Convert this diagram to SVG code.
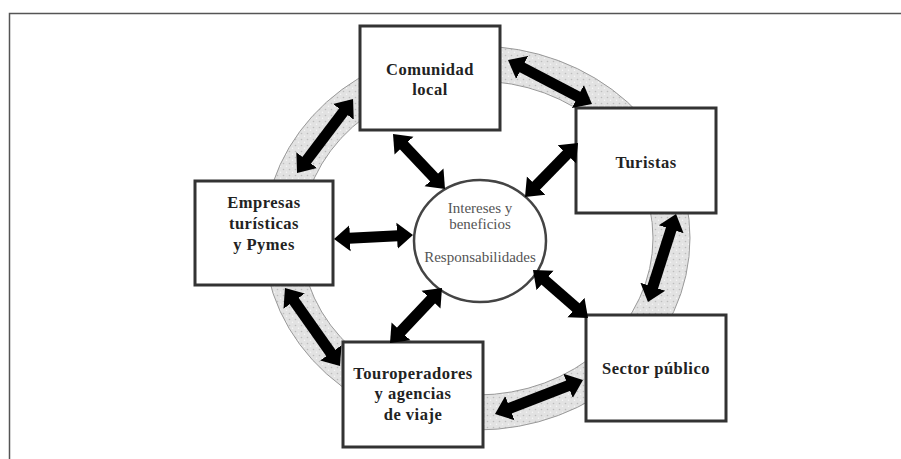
<svg xmlns="http://www.w3.org/2000/svg" width="901" height="459" viewBox="0 0 901 459">
<style>
.box{fill:#fff;stroke:#333;stroke-width:3}
.lbl{font-family:"Liberation Serif","Times New Roman",serif;font-weight:bold;font-size:16.5px;letter-spacing:0.5px;fill:#222;text-anchor:middle}
.ctr{font-family:"Liberation Serif","Times New Roman",serif;font-size:15px;fill:#555;text-anchor:middle}
.arr{stroke:#000;stroke-width:11;fill:none;marker-start:url(#ah);marker-end:url(#ah)}
.frame{stroke:#555;stroke-width:1.5;fill:none}
</style>
<defs>
<marker id="ah" markerUnits="userSpaceOnUse" viewBox="0 -14 17 28" refX="1" refY="0" markerWidth="17" markerHeight="28" orient="auto-start-reverse">
<path d="M0,-13 L16,0 L0,13 z" fill="#000"/>
</marker>
<pattern id="dots" width="6" height="6" patternUnits="userSpaceOnUse">
<rect width="6" height="6" fill="#e2e2e2"/>
<circle cx="1.5" cy="1.5" r="0.8" fill="#bdbdbd"/>
<circle cx="4.5" cy="4.2" r="0.8" fill="#f7f7f7"/>
</pattern>
</defs>
<rect width="901" height="459" fill="#fff"/>
<path class="frame" d="M9.5,459 V13.5 H901"/>
<g id="ring">
<path d="M264,238 a213,192 0 1,0 426,0 a213,192 0 1,0 -426,0 Z M301,238 a176,157 0 1,1 352,0 a176,157 0 1,1 -352,0 Z" fill="url(#dots)" fill-rule="evenodd" stroke="#999" stroke-width="1"/>
</g>
<g id="center">
<ellipse cx="480" cy="241" rx="66" ry="61" fill="#fff" stroke="#444" stroke-width="2.5"/>
<text class="ctr" x="480" y="213">Intereses y</text>
<text class="ctr" x="480" y="229">beneficios</text>
<text class="ctr" x="480" y="262">Responsabilidades</text>
</g>
<g id="comunidad">
<rect class="box" x="360" y="26" width="140" height="104"/>
<text class="lbl" x="430" y="75">Comunidad</text>
<text class="lbl" x="430" y="95">local</text>
</g>
<g id="turistas">
<rect class="box" x="576" y="108" width="140" height="105"/>
<text class="lbl" x="646" y="168">Turistas</text>
</g>
<g id="sector">
<rect class="box" x="586" y="315" width="140" height="106"/>
<text class="lbl" x="656" y="374">Sector público</text>
</g>
<g id="touroperadores">
<rect class="box" x="343" y="342" width="140" height="105"/>
<text class="lbl" x="413" y="379">Touroperadores</text>
<text class="lbl" x="413" y="399">y agencias</text>
<text class="lbl" x="413" y="420">de viaje</text>
</g>
<g id="empresas">
<rect class="box" x="195" y="181" width="138" height="104"/>
<text class="lbl" x="264" y="208">Empresas</text>
<text class="lbl" x="264" y="229">turísticas</text>
<text class="lbl" x="264" y="250">y Pymes</text>
</g>
<g id="connectors">
<line class="arr" x1="521.3" y1="67" x2="578.7" y2="97"/>
<line class="arr" x1="671.5" y1="228.3" x2="652.5" y2="287.7"/>
<line class="arr" x1="569" y1="385.4" x2="509" y2="408.6"/>
<line class="arr" x1="331.4" y1="353.7" x2="293.6" y2="300.3"/>
<line class="arr" x1="306.1" y1="161" x2="344" y2="111"/>
<line class="arr" x1="403.3" y1="144.9" x2="434.7" y2="178.1"/>
<line class="arr" x1="567.5" y1="153.7" x2="535.5" y2="186.3"/>
<line class="arr" x1="349" y1="238.2" x2="398" y2="235.8"/>
<line class="arr" x1="400.3" y1="332.1" x2="431.7" y2="298.9"/>
<line class="arr" x1="544.3" y1="279.9" x2="576.7" y2="308.1"/>
</g>
</svg>
